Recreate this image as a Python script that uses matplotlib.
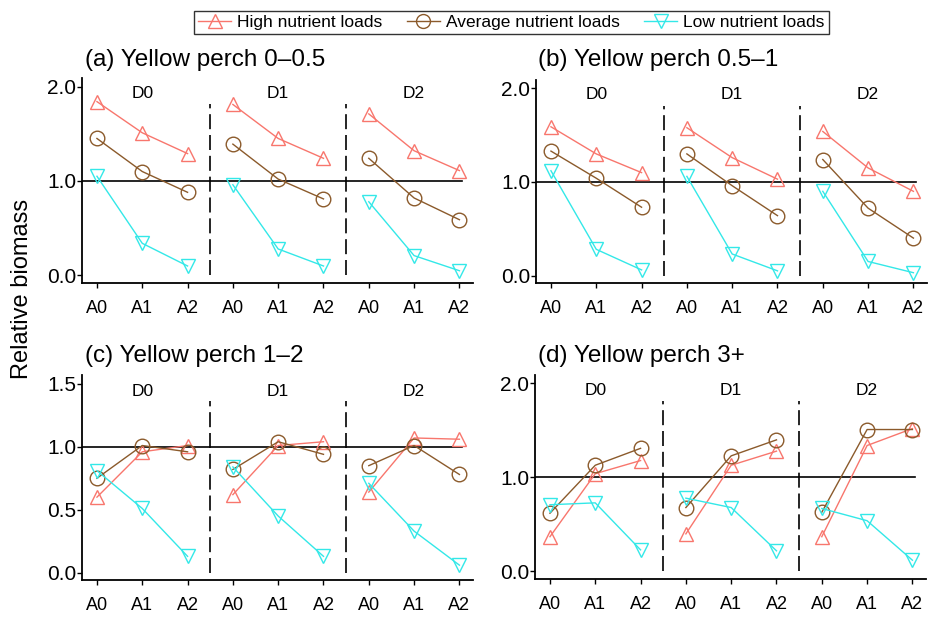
import matplotlib
matplotlib.use('Agg')
import matplotlib.pyplot as plt
from matplotlib.lines import Line2D

plt.rcParams['font.family'] = ['Liberation Sans', 'DejaVu Sans']

# data (3 treatments D0/D1/D2 x A0/A1/A2)
x_labels = ['A0', 'A1', 'A2'] * 3
group_labels = ['D0', 'D1', 'D2']
panel_titles = ['(a) Yellow perch 0–0.5', '(b) Yellow perch 0.5–1',
                '(c) Yellow perch 1–2', '(d) Yellow perch 3+']
series_names = ['High nutrient loads', 'Average nutrient loads', 'Low nutrient loads']

high_a = [1.84, 1.51, 1.29, 1.81, 1.45, 1.24, 1.71, 1.32, 1.11]
avg_a = [1.45, 1.10, 0.88, 1.39, 1.02, 0.81, 1.24, 0.82, 0.59]
low_a = [1.05, 0.34, 0.10, 0.96, 0.28, 0.10, 0.78, 0.21, 0.05]

high_b = [1.59, 1.30, 1.10, 1.58, 1.26, 1.03, 1.54, 1.15, 0.90]
avg_b = [1.33, 1.04, 0.73, 1.30, 0.96, 0.64, 1.24, 0.72, 0.40]
low_b = [1.12, 0.28, 0.06, 1.06, 0.23, 0.05, 0.90, 0.15, 0.03]

high_c = [0.60, 0.96, 1.01, 0.62, 1.01, 1.04, 0.64, 1.07, 1.06]
avg_c = [0.75, 1.01, 0.96, 0.82, 1.04, 0.94, 0.85, 1.01, 0.78]
low_c = [0.81, 0.51, 0.13, 0.84, 0.45, 0.13, 0.71, 0.33, 0.06]

high_d = [0.37, 1.04, 1.18, 0.40, 1.13, 1.28, 0.37, 1.34, 1.52]
avg_d = [0.62, 1.13, 1.31, 0.68, 1.23, 1.40, 0.63, 1.51, 1.51]
low_d = [0.71, 0.73, 0.23, 0.78, 0.68, 0.22, 0.67, 0.54, 0.12]

y_ticks_ab = [0.0, 1.0, 2.0]
y_ticks_c = [0.0, 0.5, 1.0, 1.5]

colors = ['#F8766D', '#8B5A2B', '#33E8E8']
markers = ['^', 'o', 'v']

panels = [
    (high_a, avg_a, low_a),
    (high_b, avg_b, low_b),
    (high_c, avg_c, low_c),
    (high_d, avg_d, low_d),
]

W, H = 930, 619
fig = plt.figure(figsize=(W / 100, H / 100), dpi=100)

# axes boxes in pixels: left, top, right, bottom
boxes = [(82, 78, 473, 283), (536, 80, 927, 283),
         (82, 375, 473, 580), (535, 375, 926, 579)]
title_pos = [(85, 60), (538, 60), (85, 356), (538, 356)]

for i, (vals, box) in enumerate(zip(panels, boxes)):
    l, t, r, b = box
    ax = fig.add_axes([l / W, 1 - b / H, (r - l) / W, (b - t) / H])
    is_c = (i == 2)
    ymin, ymax = (-0.058, 1.57) if is_c else (-0.08, 2.09)
    vtop = 1.36 if is_c else 1.81
    ylab = 1.44 if is_c else 1.93

    ax.set_xlim(0.67, 9.3)
    ax.set_ylim(ymin, ymax)

    ax.plot([0.67, 9.05], [1, 1], color='black', lw=1.2, zorder=1)
    for xv in (3.5, 6.5):
        ax.plot([xv, xv], [0, vtop], color='black', lw=1.2,
                dashes=(9, 3.5), zorder=1)

    for g in range(3):
        xs = [g * 3 + 1, g * 3 + 2, g * 3 + 3]
        for s, series in enumerate(vals):
            ax.plot(xs, series[g * 3:g * 3 + 3], color=colors[s], lw=1.0,
                    marker=markers[s], markersize=10.5, markerfacecolor='none',
                    markeredgecolor=colors[s], markeredgewidth=1.0, zorder=2)
        ax.text(g * 3 + 2, ylab, group_labels[g], ha='center', va='center',
                fontsize=12.5)

    ax.set_xticks(range(1, 10))
    ax.set_xticklabels(x_labels, fontsize=13)
    ticks = y_ticks_c if is_c else y_ticks_ab
    ax.set_yticks(ticks)
    ax.set_yticklabels([f'{v:.1f}' for v in ticks], fontsize=15)
    ax.tick_params(axis='x', length=3.5, width=1.0, pad=9)
    ax.tick_params(axis='y', length=3.5, width=1.0, pad=0.5)

    for side in ('top', 'right'):
        ax.spines[side].set_visible(False)
    for side in ('left', 'bottom'):
        ax.spines[side].set_linewidth(1.3)
    ax.set_facecolor('white')

    tx, ty = title_pos[i]
    fig.text(tx / W, 1 - ty / H, panel_titles[i], fontsize=17.5,
             ha='left', va='center')

fig.text(22 / W, 1 - 289 / H, 'Relative biomass', rotation=90,
         fontsize=17, ha='center', va='center')

handles = [Line2D([], [], color=colors[s], lw=1.0, marker=markers[s],
                  markersize=10, markerfacecolor='none',
                  markeredgecolor=colors[s]) for s in range(3)]
leg = fig.legend(handles, series_names, loc='upper center',
                 bbox_to_anchor=(0.550, 0.997), ncol=3, fontsize=12.5,
                 frameon=True, fancybox=False, edgecolor='black',
                 handlelength=1.9, handletextpad=0.35, columnspacing=1.4,
                 borderpad=0.25)
leg.get_frame().set_linewidth(1.0)

fig.savefig('out.png', dpi=100)
